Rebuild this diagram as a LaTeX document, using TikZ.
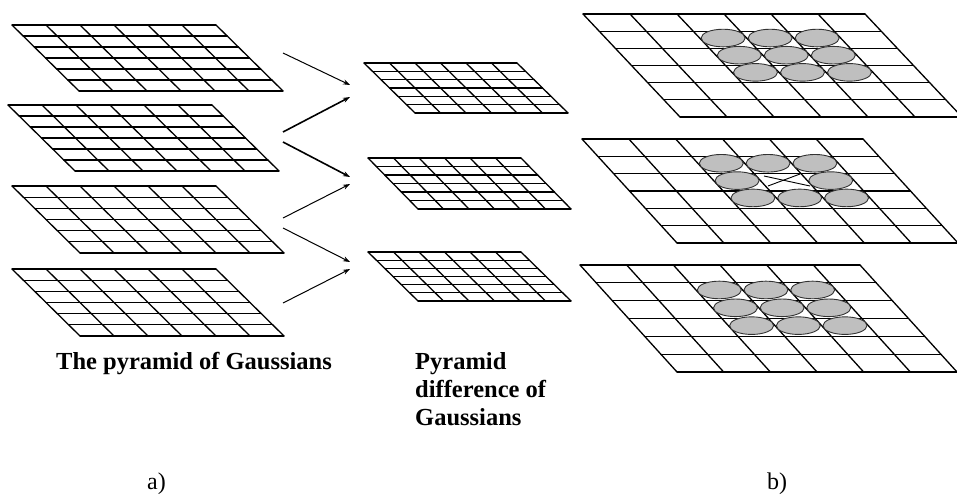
\documentclass[tikz,border=0pt]{standalone}
\usepackage{fontspec}
\setmainfont{Liberation Serif}[BoldFont={Liberation Serif Bold}]
\usetikzlibrary{arrows.meta}
\tikzset{
  gridline/.style={line width=1.3pt, line cap=round},
  blob/.style={draw=black!80, line width=0.9pt, fill=black!25},
  conn/.style={line width=1pt, -{Stealth[length=7pt,width=5pt]}},
  connb/.style={conn, line width=1.6pt},
  boldlabel/.style={font=\fontsize{24.5}{28}\selectfont\bfseries, inner sep=0pt, anchor=base west},
  plainlabel/.style={font=\fontsize{24}{28}\selectfont, inner sep=0pt, anchor=base west},
}
% #1 x of top-left, #2 y of top-left, #3 width, #4 slant shift, #5 height, #6 name
\newcommand\pgrid[6]{%
  \foreach \i in {0,...,6}{
    \draw[gridline] ({#1+#4*\i/6},{#2+#5*\i/6}) -- ({#1+#3+#4*\i/6},{#2+#5*\i/6});
    \draw[gridline] ({#1+#3*\i/6},{#2}) -- ({#1+#3*\i/6+#4},{#2+#5});
  }
  \coordinate (#6) at ({#1+#3/2+#4/2},{#2+#5/2});
}
% #1..#5 as above, #6 list of col/row cells
\newcommand\pblobs[6]{%
  \foreach \c/\r in {#6}{
    \draw[blob] ({#1+(\c+0.5)*#3/6+(\r+0.4)*#4/6},{#2+(\r+0.4)*#5/6}) ellipse [x radius=22pt, y radius=8.8pt];
  }
}
\begin{document}
\begin{tikzpicture}[x=1pt,y=-1pt]
\useasboundingbox (0,0) rectangle (957,495);
\clip (0,0) rectangle (957,495);

% a) pyramid of Gaussians
\pgrid{12}{25}{204}{67}{66}{g1}
\pgrid{8}{105}{204}{67}{66}{g2}
\pgrid{12}{186}{204}{68}{67}{g3}
\pgrid{12}{269}{204}{68}{67}{g4}

% difference of Gaussians
\pgrid{364}{63}{153}{51}{50}{d1}
\pgrid{368}{158}{153}{50}{51}{d2}
\pgrid{368}{252}{153}{50}{49}{d3}

% arrows
\coordinate (a1s) at (283,53);  \coordinate (a1e) at (350,85);
\coordinate (a2s) at (283,132); \coordinate (a2e) at (350,97);
\coordinate (a3s) at (283,142); \coordinate (a3e) at (350,177);
\coordinate (a4s) at (283,218); \coordinate (a4e) at (350,184);
\coordinate (a5s) at (283,228); \coordinate (a5e) at (350,262);
\coordinate (a6s) at (283,303); \coordinate (a6e) at (350,269);
\draw[conn]  (a1s) -- (a1e);
\draw[connb] (a2s) -- (a2e);
\draw[connb] (a3s) -- (a3e);
\draw[conn]  (a4s) -- (a4e);
\draw[conn]  (a5s) -- (a5e);
\draw[conn]  (a6s) -- (a6e);

% b) neighbourhood grids
\pgrid{583}{14}{282}{97}{103}{r1}
\pblobs{583}{14}{282}{97}{103}{2/1,3/1,4/1,2/2,3/2,4/2,2/3,3/3,4/3}
\pgrid{582}{139}{281}{95}{104}{r2}
\pblobs{582}{139}{281}{95}{104}{2/1,3/1,4/1,2/2,4/2,2/3,3/3,4/3}
\coordinate (x1s) at (764,176); \coordinate (x1e) at (810,186);
\coordinate (x2s) at (768,186); \coordinate (x2e) at (800,174);
\draw[line width=0.9pt] (x1s) -- (x1e);
\draw[line width=0.9pt] (x2s) -- (x2e);
\pgrid{580}{265}{280}{97}{107}{r3}
\pblobs{580}{265}{280}{97}{107}{2/1,3/1,4/1,2/2,3/2,4/2,2/3,3/3,4/3}

% labels
\node[boldlabel] (tpg) at (56,369) {The pyramid of Gaussians};
\node[boldlabel] (pd1) at (415,369) {Pyramid};
\node[boldlabel] (pd2) at (415,397) {difference of};
\node[boldlabel] (pd3) at (415,425) {Gaussians};
\node[plainlabel] (la) at (147,489) {a)};
\node[plainlabel] (lb) at (767,489) {b)};
\end{tikzpicture}
\end{document}
